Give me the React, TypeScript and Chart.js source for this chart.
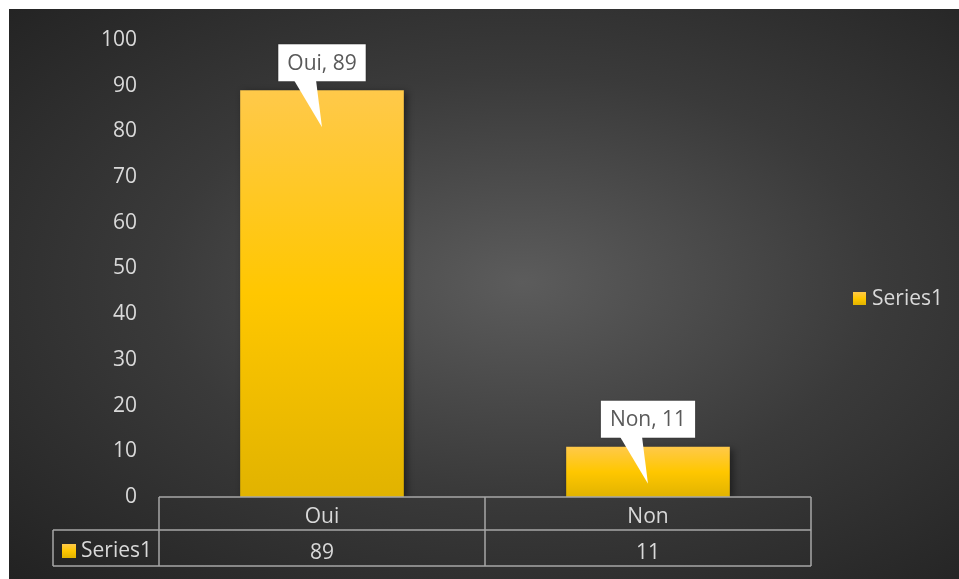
import React, { useEffect, useRef } from "react";
import { Chart, registerables } from "chart.js";

Chart.register(...registerables);

const categories = ["Oui", "Non"];
const seriesName = "Series1";
const seriesValues = [89, 11];
const yMin = 0;
const yMax = 100;
const yStep = 10;

const FONT = "'Open Sans', 'DejaVu Sans', sans-serif";
const FS = 21;
const TEXT = "#d9d9d9";
const LINE = "#a6a6a6";
const CALLOUT_TEXT = "#595959";

function barGradient(ctx: any) {
  const chart = ctx.chart;
  if (!chart.chartArea || ctx.type !== "data") return "#ffc000";
  const y = chart.scales.y;
  const top = y.getPixelForValue(ctx.raw);
  const base = y.getPixelForValue(0);
  const g = chart.ctx.createLinearGradient(0, top, 0, base);
  g.addColorStop(0, "#ffc94a");
  g.addColorStop(0.5, "#ffc700");
  g.addColorStop(1, "#e1b300");
  return g;
}

function legendSquare(ctx: CanvasRenderingContext2D, x: number, y: number, s: number) {
  const g = ctx.createLinearGradient(0, y, 0, y + s);
  g.addColorStop(0, "#ffc94a");
  g.addColorStop(0.5, "#ffc700");
  g.addColorStop(1, "#e1b300");
  ctx.fillStyle = g;
  ctx.fillRect(x, y, s, s);
}

const decorPlugin = {
  id: "decor",
  beforeDatasetsDraw(chart: any) {
    const ctx = chart.ctx;
    ctx.save();
    ctx.shadowColor = "rgba(0,0,0,0.45)";
    ctx.shadowBlur = 7;
    ctx.shadowOffsetX = 3;
    ctx.shadowOffsetY = 2;
  },
  afterDatasetsDraw(chart: any) {
    const ctx = chart.ctx;
    ctx.restore();
    const meta = chart.getDatasetMeta(0);
    ctx.save();
    ctx.font = `${FS}px ${FONT}`;
    meta.data.forEach((bar: any, i: number) => {
      const label = `${categories[i]}, ${seriesValues[i]}`;
      const tw = ctx.measureText(label).width;
      const w = tw + 18;
      const h = 37;
      const bottom = bar.y - 9;
      const left = bar.x - w / 2;
      ctx.fillStyle = "#ffffff";
      ctx.shadowColor = "rgba(0,0,0,0.25)";
      ctx.shadowBlur = 2;
      ctx.fillRect(left, bottom - h, w, h);
      ctx.shadowColor = "transparent";
      ctx.beginPath();
      ctx.moveTo(bar.x - 28, bottom - 1);
      ctx.lineTo(bar.x - 6, bottom - 1);
      ctx.lineTo(bar.x, bar.y + 37);
      ctx.closePath();
      ctx.fill();
      ctx.fillStyle = CALLOUT_TEXT;
      ctx.textAlign = "center";
      ctx.textBaseline = "middle";
      ctx.fillText(label, bar.x, bottom - h / 2 + 1);
    });
    ctx.restore();
  },
  afterDraw(chart: any) {
    const ctx = chart.ctx;
    const area = chart.chartArea;
    const xs = chart.scales.x;
    const n = categories.length;
    const cw = (area.right - area.left) / n;
    const r0 = area.bottom;
    const r1 = r0 + 33;
    const r2 = r0 + 69;
    const legLeft = area.left - 106;
    ctx.save();
    ctx.strokeStyle = LINE;
    ctx.lineWidth = 1.5;
    ctx.beginPath();
    ctx.moveTo(area.left, r0);
    ctx.lineTo(area.right, r0);
    ctx.moveTo(legLeft, r1);
    ctx.lineTo(area.right, r1);
    ctx.moveTo(legLeft, r2);
    ctx.lineTo(area.right, r2);
    ctx.moveTo(legLeft, r1);
    ctx.lineTo(legLeft, r2);
    for (let i = 0; i <= n; i++) {
      const x = area.left + i * cw;
      ctx.moveTo(x, r0);
      ctx.lineTo(x, r2);
    }
    ctx.stroke();

    ctx.font = `${FS}px ${FONT}`;
    ctx.fillStyle = TEXT;
    ctx.textBaseline = "middle";
    ctx.textAlign = "center";
    seriesValues.forEach((v, i) => {
      ctx.fillText(String(v), xs.getPixelForValue(i), (r1 + r2) / 2 + 5);
    });
    // legend key in table
    legendSquare(ctx, legLeft + 9, (r1 + r2) / 2 - 4, 14);
    ctx.fillStyle = TEXT;
    ctx.textAlign = "left";
    ctx.fillText(seriesName, legLeft + 28, (r1 + r2) / 2 + 3);

    // right legend
    const lx = area.right + 42;
    const ly = 290;
    legendSquare(ctx, lx, ly - 7, 13);
    ctx.fillStyle = TEXT;
    ctx.fillText(seriesName, lx + 19, ly);
    ctx.restore();
  },
};

export default function App() {
  const ref = useRef<HTMLCanvasElement | null>(null);
  useEffect(() => {
    if (!ref.current) return;
    const chart = new Chart(ref.current, {
      type: "bar",
      data: {
        labels: categories,
        datasets: [
          {
            label: seriesName,
            data: seriesValues,
            backgroundColor: barGradient,
            borderWidth: 0,
            categoryPercentage: 1,
            barPercentage: 0.502,
          },
        ],
      },
      options: {
        responsive: false,
        animation: false,
        layout: { padding: { top: 31, right: 148, bottom: 0, left: 0 } },
        plugins: {
          legend: { display: false },
          tooltip: { enabled: false },
        },
        scales: {
          x: {
            grid: { display: false, drawTicks: false },
            border: { display: false },
            ticks: {
              color: TEXT,
              font: { family: FONT, size: FS },
              padding: 7,
            },
            afterFit: (s: any) => {
              s.height = 82;
            },
          },
          y: {
            min: yMin,
            max: yMax,
            grid: { display: false, drawTicks: false },
            border: { display: false },
            ticks: {
              stepSize: yStep,
              color: TEXT,
              font: { family: FONT, size: FS },
              padding: 22,
            },
            afterFit: (s: any) => {
              s.width = 150;
              s.paddingTop = 12;
              s.paddingBottom = 12;
            },
          },
        },
      },
      plugins: [decorPlugin],
    });
    return () => chart.destroy();
  }, []);

  return (
    <div
      style={{
        position: "absolute",
        left: 9,
        top: 9,
        width: 950,
        height: 570,
        background:
          "radial-gradient(ellipse farthest-corner at 54% 48%, #5c5c5c 0%, #3a3a3a 50%, #222222 100%)",
      }}
    >
      <canvas ref={ref} width={950} height={570} style={{ display: "block" }} />
    </div>
  );
}
